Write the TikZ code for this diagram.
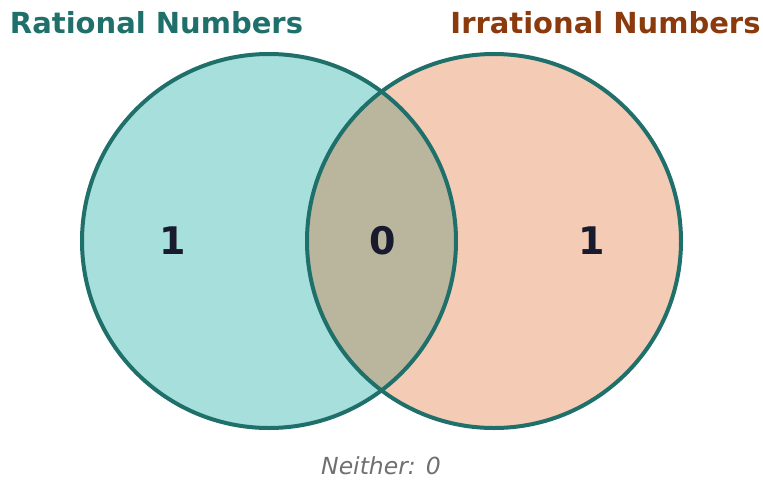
\documentclass[tikz,border=0pt]{standalone}
\usepackage{fontspec}
\setmainfont{DejaVu Sans}
\definecolor{edge}{HTML}{1F706A}
\definecolor{lfill}{HTML}{A6DFDC}
\definecolor{rfill}{HTML}{F4CBB4}
\definecolor{ofill}{HTML}{B9B69D}
\definecolor{numc}{HTML}{1A1A2E}
\definecolor{brown}{HTML}{8B3A0E}
\definecolor{greyc}{HTML}{707070}
\tikzset{
  circ/.style={draw=edge, line width=4pt},
  num/.style={font=\fontsize{38}{38}\selectfont\bfseries, text=numc, inner sep=0pt},
  title/.style={font=\fontsize{29}{29}\selectfont\bfseries, inner sep=0pt, anchor=base},
}
\begin{document}
\begin{tikzpicture}[x=1pt,y=-1pt]
\useasboundingbox (0,0) rectangle (763,480);
\fill[lfill] (269,241) circle (187);
\fill[rfill] (494,241) circle (187);
\begin{scope}
\clip (269,241) circle (187);
\fill[ofill] (494,241) circle (187);
\end{scope}
\draw[circ] (269,241) circle (187);
\draw[circ] (494,241) circle (187);
\node[title, text=edge] (tl) at (156.5,33) {Rational Numbers};
\node[title, text=brown] (tr) at (605.5,33) {Irrational Numbers};
\node[num] (a) at (173,241) {1};
\node[num] (b) at (383,241) {0};
\node[num] (c) at (592,241) {1};
\node[font=\fontsize{23.5}{23.5}\selectfont\itshape, text=greyc, inner sep=0pt] (n) at (381,466) {Neither: 0};
\end{tikzpicture}
\end{document}
